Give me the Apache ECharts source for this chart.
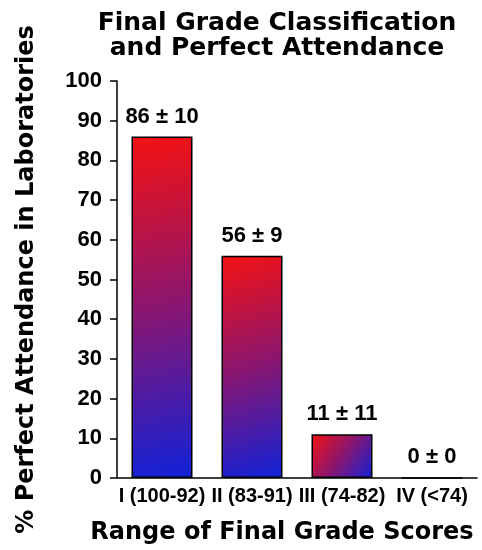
<!DOCTYPE html>
<html>
<head>
<meta charset="utf-8">
<script src="https://cdn.jsdelivr.net/npm/echarts@6/dist/echarts.min.js"></script>
<style>
  html, body { margin: 0; padding: 0; background: #fff; }
  #chart { width: 482px; height: 550px; }
</style>
</head>
<body>
<div id="chart"></div>
<script>
var categories = ['I (100-92)', 'II (83-91)', 'III (74-82)', 'IV (<74)'];
var means = [86, 56, 11, 0];
var errors = [10, 9, 11, 0];
var yTicks = { min: 0, max: 100, interval: 10 };

var chart = echarts.init(document.getElementById('chart'));

var barFill = new echarts.graphic.LinearGradient(0, 0, 1, 1, [
  { offset: 0, color: '#f41212' },
  { offset: 0.5, color: '#8a1670' },
  { offset: 1, color: '#1022d8' }
]);

var option = {
  backgroundColor: '#fff',
  animation: false,
  title: [
    {
      text: 'Final Grade Classification',
      left: 277, top: 11, textAlign: 'center', padding: 0,
      textStyle: { fontFamily: 'DejaVu Sans', fontWeight: 'bold', fontSize: 25, color: '#000' }
    },
    {
      text: 'and Perfect Attendance',
      left: 277, top: 36, textAlign: 'center', padding: 0,
      textStyle: { fontFamily: 'DejaVu Sans', fontWeight: 'bold', fontSize: 25, color: '#000' }
    }
  ],
  grid: { left: 117, right: 5, top: 81, bottom: 72 },
  xAxis: {
    type: 'category',
    data: categories,
    name: 'Range of Final Grade Scores',
    nameLocation: 'middle',
    nameGap: 43,
    nameTextStyle: {
      fontFamily: 'DejaVu Sans', fontWeight: 'bold', fontSize: 24, color: '#000',
      padding: [0, 30, 0, 0]
    },
    axisLine: { lineStyle: { color: '#000', width: 1.5 } },
    axisTick: { show: false },
    axisLabel: {
      interval: 0, margin: 8, color: '#000',
      fontFamily: 'Liberation Sans', fontWeight: 'bold', fontSize: 20
    }
  },
  yAxis: {
    type: 'value',
    min: yTicks.min, max: yTicks.max, interval: yTicks.interval,
    name: '% Perfect Attendance in Laboratories',
    nameLocation: 'middle',
    nameGap: 78,
    nameTextStyle: { fontFamily: 'DejaVu Sans', fontWeight: 'bold', fontSize: 24, color: '#000' },
    splitLine: { show: false },
    axisLine: { show: true, lineStyle: { color: '#000', width: 1.5 } },
    axisTick: { show: true, length: 7, lineStyle: { color: '#000', width: 1.5 } },
    axisLabel: {
      margin: 15, color: '#000',
      fontFamily: 'Liberation Sans', fontWeight: 'bold', fontSize: 22
    }
  },
  series: [
    {
      type: 'bar',
      data: means,
      barWidth: 61,
      itemStyle: { color: barFill, borderColor: '#000', borderWidth: 1.5 },
      label: {
        show: true,
        position: 'top',
        distance: 9,
        color: '#000',
        fontFamily: 'Liberation Sans', fontWeight: 'bold', fontSize: 22,
        formatter: function (p) {
          return means[p.dataIndex] + ' \u00b1 ' + errors[p.dataIndex];
        }
      }
    }
  ]
};

chart.setOption(option);
</script>
</body>
</html>
